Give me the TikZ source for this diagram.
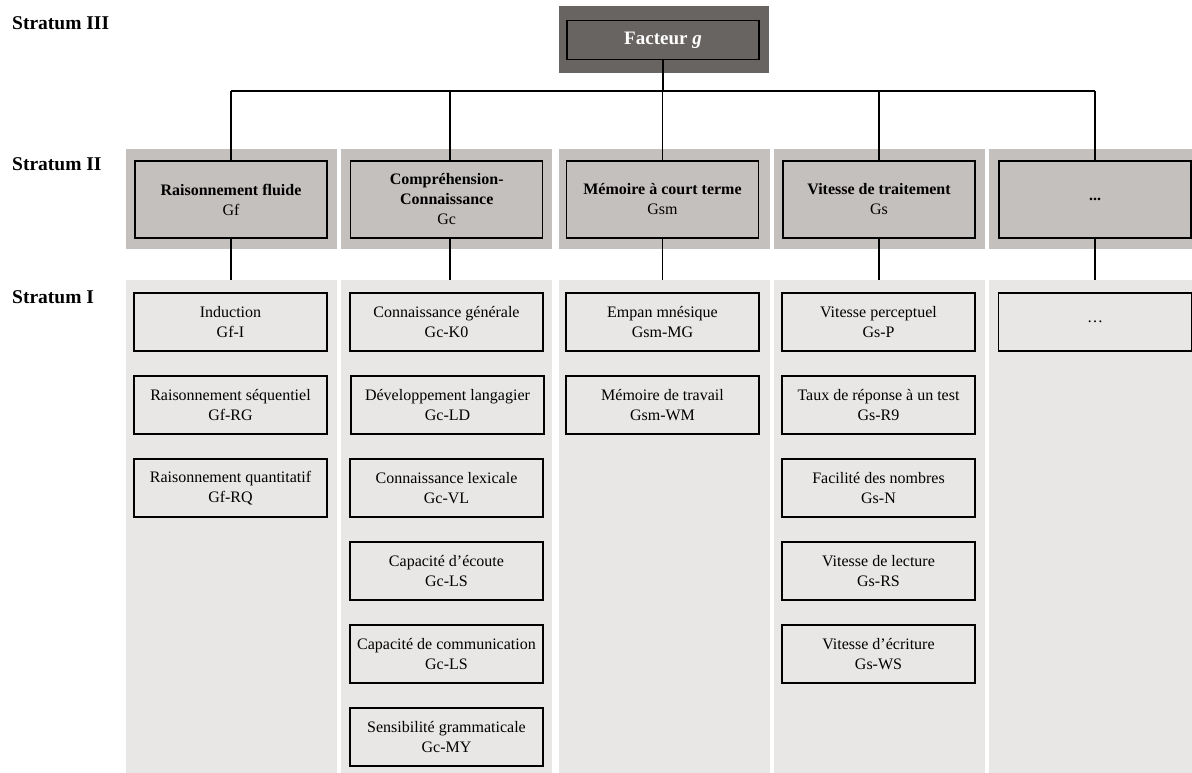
\documentclass[tikz,border=0pt]{standalone}
\usepackage{fontspec}
\setmainfont{Liberation Serif}
\definecolor{darkg}{RGB}{104,100,98}
\definecolor{midg}{RGB}{196,192,190}
\definecolor{lightg}{RGB}{232,231,230}
\begin{document}
\begin{tikzpicture}[x=1pt,y=-1pt,
 bandtwo/.style={fill=midg, inner sep=0pt, minimum width=211pt, minimum height=100pt, anchor=north west},
 bandone/.style={fill=lightg, inner sep=0pt, minimum width=211pt, minimum height=500pt, anchor=north west},
 boxtwo/.style={draw=black, line width=1.4pt, fill=midg, minimum width=192pt, minimum height=77pt, inner sep=0pt, align=center, font=\fontsize{16}{20}\selectfont},
 boxone/.style={draw=black, line width=1.4pt, fill=lightg, minimum width=193pt, minimum height=58pt, inner sep=0pt, align=center, font=\fontsize{16}{20}\selectfont},
 stratlabel/.style={anchor=base west, inner sep=0pt, font=\fontsize{19.5}{22}\selectfont\bfseries},
 conn/.style={line width=1.2pt}]
\useasboundingbox (0,0) rectangle (1192,773);
% stratum labels
\node[stratlabel] (l3) at (12,29.3) {Stratum III};
\node[stratlabel] (l2) at (12,171) {Stratum II};
\node[stratlabel] (l1) at (12,303.5) {Stratum I};
% top g factor
\node[fill=darkg, inner sep=0pt, minimum width=210pt, minimum height=67pt] (gout) at (664,39.6) {};
\node[draw=black, line width=1.4pt, fill=darkg, inner sep=0pt, minimum width=192pt, minimum height=38.5pt, text=white, font=\fontsize{19}{22}\selectfont\bfseries] (g) at (663,40) {Facteur \textit{g}};
% bands stratum II
\node[bandtwo] (bb1) at (125.5,149) {};
\node[bandtwo] (bb2) at (341,149) {};
\node[bandtwo] (bb3) at (558.5,149) {};
\node[bandtwo] (bb4) at (773.5,149) {};
\node[bandtwo] (bb5) at (989,149) {};
% bands stratum I
\node[bandone] (ba1) at (125.5,280) {};
\node[bandone] (ba2) at (341,280) {};
\node[bandone] (ba3) at (558.5,280) {};
\node[bandone] (ba4) at (773.5,280) {};
\node[bandone] (ba5) at (989,280) {};
% stratum II boxes
\node[boxtwo] (s1) at (231,199.5) {\textbf{Raisonnement fluide}\\Gf};
\node[boxtwo] (s2) at (446.75,199.5) {\textbf{Compréhension-}\\\textbf{Connaissance}\\Gc};
\node[boxtwo] (s3) at (662.5,199.5) {\textbf{Mémoire à court terme}\\Gsm};
\node[boxtwo] (s4) at (879,199.5) {\textbf{Vitesse de traitement}\\Gs};
\node[boxtwo] (s5) at (1095,199.5) {\textbf{...}};
% connectors
\coordinate (bus) at (0,91);
\coordinate (c1) at (s1.north);
\coordinate (c2) at ([xshift=3.25pt]s2.north);
\coordinate (c3) at (s3.north);
\coordinate (c4) at (s4.north);
\coordinate (c5) at (s5.north);
\draw[conn] (g.south) -- (g.south |- bus);
\draw[conn] (c1 |- bus) -- (c5 |- bus);
\foreach \i in {1,...,5}{
  \draw[conn] (c\i |- bus) -- (c\i |- s\i.north);
  \draw[conn] (c\i |- s\i.south) -- (c\i |- ba\i.north);
}
% stratum I boxes
\node[boxone] (a11) at (230.5,322) {Induction\\Gf-I};
\node[boxone] (a12) at (230.5,405) {Raisonnement séquentiel\\Gf-RG};
\node[boxone] (a13) at (230.5,488) {Raisonnement quantitatif\\Gf-RQ};
\node[boxone] (a21) at (446.5,322) {Connaissance générale\\Gc-K0};
\node[boxone] (a22) at (447.5,405) {Développement langagier\\Gc-LD};
\node[boxone] (a23) at (446.5,488) {Connaissance lexicale\\Gc-VL};
\node[boxone] (a24) at (446.5,571) {Capacité d’écoute\\Gc-LS};
\node[boxone] (a25) at (446.5,654) {Capacité de communication\\Gc-LS};
\node[boxone] (a26) at (446.5,737) {Sensibilité grammaticale\\Gc-MY};
\node[boxone] (a31) at (662.5,322) {Empan mnésique\\Gsm-MG};
\node[boxone] (a32) at (662.5,405) {Mémoire de travail\\Gsm-WM};
\node[boxone] (a41) at (878.5,322) {Vitesse perceptuel\\Gs-P};
\node[boxone] (a42) at (878.5,405) {Taux de réponse à un test\\Gs-R9};
\node[boxone] (a43) at (878.5,488) {Facilité des nombres\\Gs-N};
\node[boxone] (a44) at (878.5,571) {Vitesse de lecture\\Gs-RS};
\node[boxone] (a45) at (878.5,654) {Vitesse d’écriture\\Gs-WS};
\node[boxone] (a51) at (1095,322) {…};
\end{tikzpicture}
\end{document}
